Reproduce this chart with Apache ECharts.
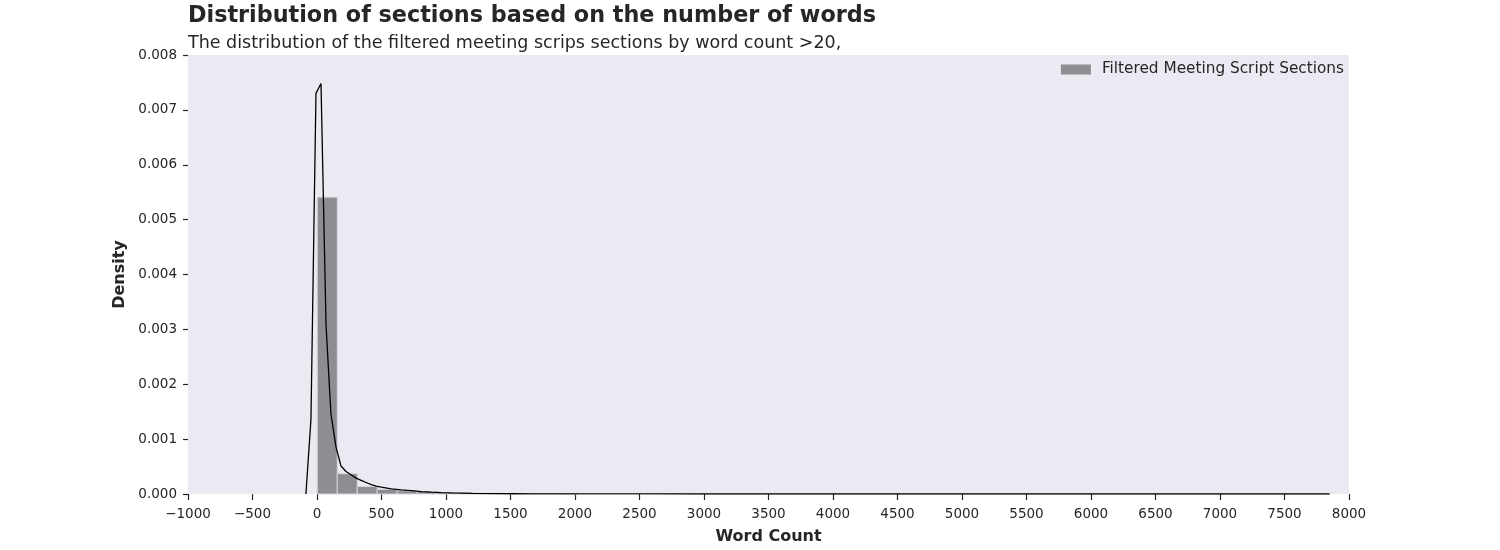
<!DOCTYPE html>
<html>
<head>
<meta charset="utf-8">
<script src="https://cdn.jsdelivr.net/npm/echarts@6/dist/echarts.min.js"></script>
<style>
  html, body { margin: 0; padding: 0; background: #ffffff; }
  #chart { width: 1500px; height: 550px; }
</style>
</head>
<body>
<div id="chart"></div>
<script>
// histogram bins (left edge of first bin, bin width) and densities
var binStart = 2;
var binWidth = 155;
var binDensity = [0.00541, 0.00037, 0.000135, 0.000085, 0.00006, 0.000045, 0.00003,
                  0.00002, 0.000014, 0.00001, 0.000007, 0.000005, 0.000004];

// kde curve
var kdeX = [-86, -47, -8, 31, 70, 108, 147, 186, 225, 264, 303, 342, 381, 420, 459, 498,
            576, 654, 732, 810, 888, 966, 1044, 1200, 1356, 1512, 1668, 1824, 2100, 2500,
            3000, 4000, 5000, 6000, 7000, 7850];
var kdeY = [0.0, 0.00135, 0.0073, 0.00748, 0.00308, 0.00146, 0.00086, 0.00051, 0.00041,
            0.00035, 0.00029, 0.00025, 0.00021, 0.00017, 0.000145, 0.000125,
            0.000095, 0.000075, 0.00006, 0.000045, 0.000034, 0.000026, 0.00002, 0.000012,
            0.000008, 0.000005, 0.000003, 0.000002, 0.000001, 0.0000005,
            0.0000002, 0.0000001, 0.0000001, 0.0000001, 0.0000001, 0.0];

var seriesName = 'Filtered Meeting Script Sections';

var chart = echarts.init(document.getElementById('chart'));

var histData = binDensity.map(function (d, i) {
    return [binStart + i * binWidth, binStart + (i + 1) * binWidth, d];
});
var kdeData = kdeX.map(function (x, i) { return [x, kdeY[i]]; });

var textColor = '#262626';
var font = 'DejaVu Sans';

var option = {
    backgroundColor: '#ffffff',
    animation: false,
    title: {
        text: 'Distribution of sections based on the number of words',
        subtext: 'The distribution of the filtered meeting scrips sections by word count >20,',
        left: 188,
        top: 5,
        padding: 0,
        itemGap: 7,
        textStyle: { fontFamily: font, fontSize: 22.3, fontWeight: 'bold', color: textColor },
        subtextStyle: { fontFamily: font, fontSize: 17.5, color: textColor }
    },
    legend: {
        data: [seriesName],
        right: 151,
        top: 57,
        icon: 'rect',
        itemWidth: 30,
        itemHeight: 10,
        itemGap: 10,
        textStyle: { fontFamily: font, fontSize: 15.3, color: textColor, padding: [0, 0, 0, 6] }
    },
    grid: {
        left: 188, right: 151, top: 55, bottom: 56,
        containLabel: false,
        outerBoundsMode: 'none',
        show: true, backgroundColor: '#eaeaf2', borderWidth: 0
    },
    xAxis: {
        type: 'value',
        min: -1000, max: 8000, interval: 500,
        name: 'Word Count',
        nameLocation: 'middle',
        nameGap: 35,
        nameTextStyle: { fontFamily: font, fontSize: 16, fontWeight: 'bold', color: textColor },
        axisLine: { show: false, onZero: false },
        axisTick: { show: true, length: 6, lineStyle: { color: textColor, width: 1.2 } },
        splitLine: { show: false },
        axisLabel: {
            margin: 13, fontFamily: font, fontSize: 13.5, color: textColor,
            formatter: function (v) { return String(v).replace('-', '\u2212'); }
        }
    },
    yAxis: {
        type: 'value',
        min: 0, max: 0.008, interval: 0.001,
        name: 'Density',
        nameLocation: 'middle',
        nameGap: 60,
        nameTextStyle: { fontFamily: font, fontSize: 16, fontWeight: 'bold', color: textColor },
        axisLine: { show: false, onZero: false },
        axisTick: { show: true, length: 5, lineStyle: { color: textColor, width: 1.2 } },
        splitLine: { show: false },
        axisLabel: {
            margin: 11, fontFamily: font, fontSize: 13.5, color: textColor,
            formatter: function (v) { return v.toFixed(3); }
        }
    },
    series: [
        {
            name: seriesName,
            type: 'custom',
            itemStyle: { color: '#8e8d92' },
            encode: { x: [0, 1], y: 2 },
            data: histData,
            renderItem: function (params, api) {
                var p0 = api.coord([api.value(0), api.value(2)]);
                var p1 = api.coord([api.value(1), 0]);
                return {
                    type: 'rect',
                    shape: { x: p0[0], y: p0[1], width: p1[0] - p0[0], height: p1[1] - p0[1] },
                    style: { fill: '#8e8d92', stroke: '#d4d4dc', lineWidth: 1 }
                };
            },
            z: 2
        },
        {
            name: 'kde',
            type: 'line',
            data: kdeData,
            showSymbol: false,
            lineStyle: { color: '#000000', width: 1.3 },
            z: 3
        }
    ]
};

chart.setOption(option);
</script>
</body>
</html>
